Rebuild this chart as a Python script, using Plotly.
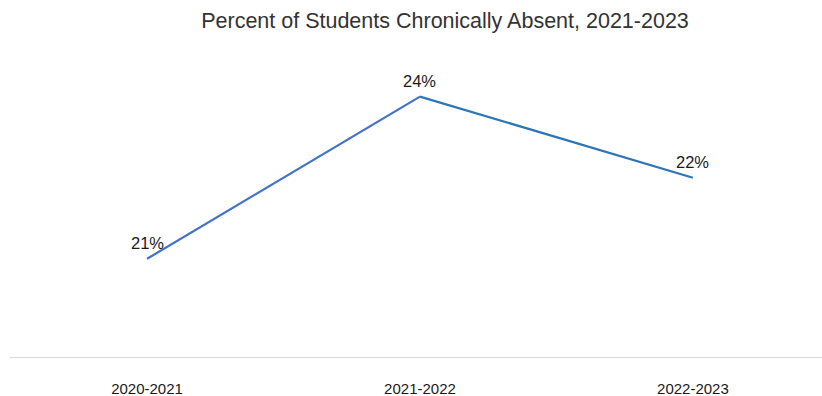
import plotly.graph_objects as go

years = ["2020-2021", "2021-2022", "2022-2023"]
pct = [20.9, 24.04, 22.47]
labels = ["21%", "24%", "22%"]

FONT = "Liberation Sans"

fig = go.Figure()
fig.add_trace(go.Scatter(x=years[0:2], y=pct[0:2], mode="lines",
                         line=dict(color="#4472C4", width=2.25), hoverinfo="skip"))
fig.add_trace(go.Scatter(x=years[1:3], y=pct[1:3], mode="lines",
                         line=dict(color="#2E75B6", width=2.25), hoverinfo="skip"))

for xv, yv, lab in zip(years, pct, labels):
    fig.add_annotation(x=xv, y=yv, text=lab, showarrow=False,
                       xanchor="center", yanchor="middle", yshift=16,
                       font=dict(family=FONT, size=16.5, color="#1a1a1a"))

fig.update_layout(
    width=822, height=396,
    margin=dict(l=10, r=0, t=47, b=39),
    paper_bgcolor="white", plot_bgcolor="white",
    showlegend=False,
    title=dict(text="Percent of Students Chronically Absent, 2021-2023",
               x=445/822, xanchor="center", y=1-20/396, yanchor="middle",
               font=dict(family=FONT, size=21.5, color="#333333")),
    xaxis=dict(type="category", range=[-0.502, 2.473], showgrid=False, zeroline=False,
               showline=True, linecolor="#d9d9d9", linewidth=1,
               ticks="", ticklabelstandoff=18,
               tickfont=dict(family=FONT, size=15, color="#1a1a1a")),
    yaxis=dict(range=[19, 25], visible=False, showgrid=False),
)

fig.write_html("out.html")
